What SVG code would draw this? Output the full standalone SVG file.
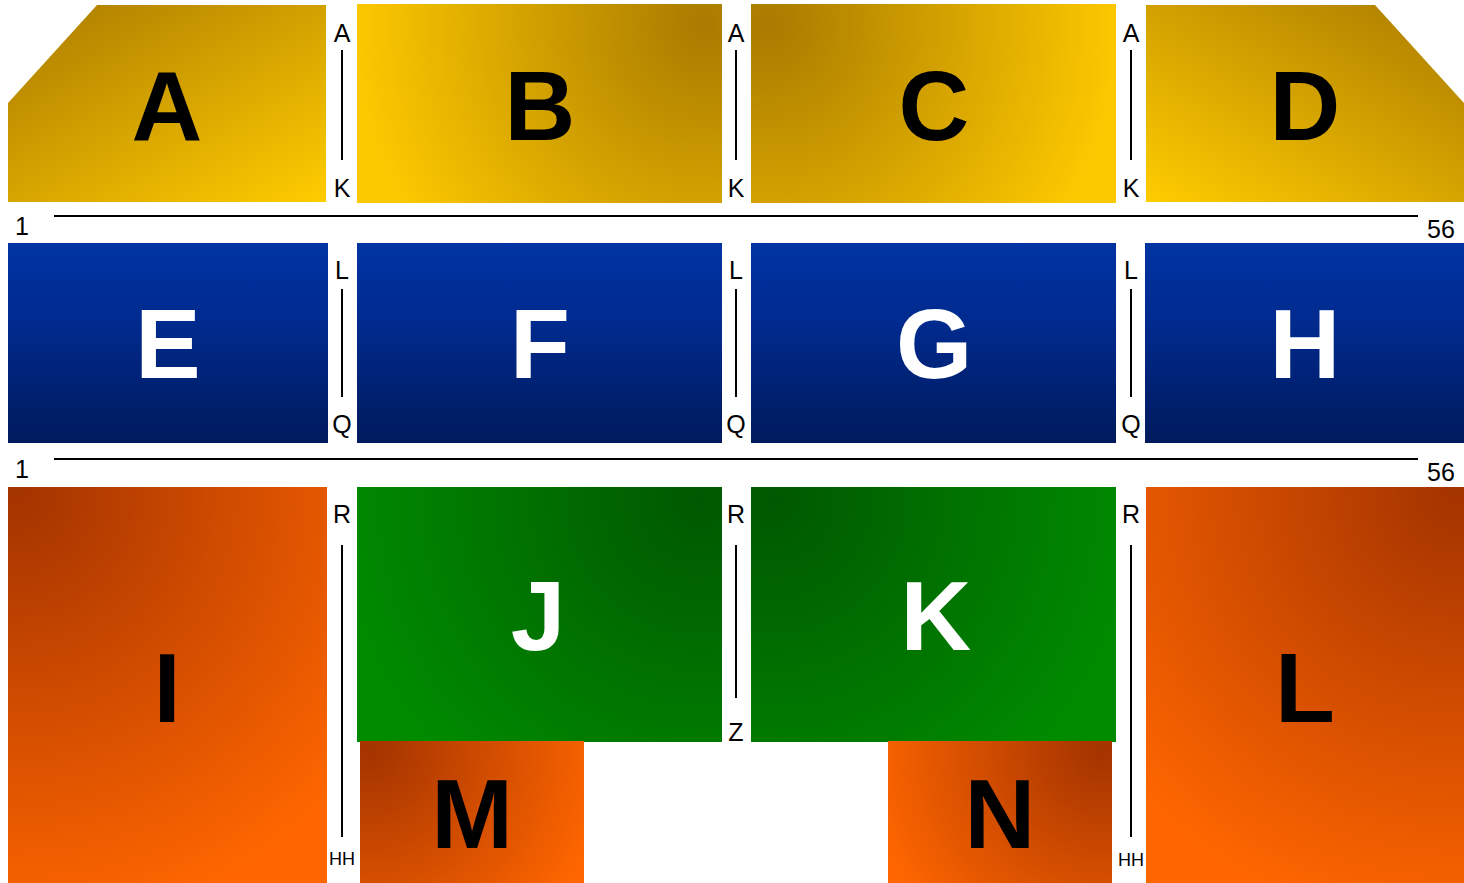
<svg xmlns="http://www.w3.org/2000/svg" width="1464" height="883" viewBox="0 0 1464 883">
<style>
.big{font-family:"Liberation Sans",Arial,sans-serif;font-weight:bold;font-size:98px;text-anchor:middle}
.blk{fill:#000}
.wht{fill:#fff}
.sm{font-family:"Liberation Sans",Arial,sans-serif;font-size:25px;text-anchor:middle;fill:#000}
.xs{font-family:"Liberation Sans",Arial,sans-serif;font-size:18px;text-anchor:middle;fill:#000}
.ln{stroke:#000;stroke-width:2;fill:none}
</style>
<defs>
<linearGradient id="yA" x1="0.1" y1="0" x2="1" y2="1"><stop offset="0" stop-color="#AE7E00"/><stop offset="1" stop-color="#FFCC00"/></linearGradient>
<radialGradient id="yB" gradientUnits="userSpaceOnUse" cx="705" cy="25" r="350"><stop offset="0" stop-color="#A97A00"/><stop offset="1" stop-color="#FCC800"/></radialGradient>
<radialGradient id="yC" gradientUnits="userSpaceOnUse" cx="768" cy="25" r="350"><stop offset="0" stop-color="#A97A00"/><stop offset="1" stop-color="#FCC800"/></radialGradient>
<linearGradient id="yD" x1="0.9" y1="0" x2="0" y2="1"><stop offset="0" stop-color="#AE7E00"/><stop offset="1" stop-color="#FFCC00"/></linearGradient>
<linearGradient id="bl" x1="0" y1="0" x2="0" y2="1"><stop offset="0" stop-color="#0033A3"/><stop offset="0.4" stop-color="#002A8E"/><stop offset="1" stop-color="#001A5C"/></linearGradient>
<radialGradient id="oI" gradientUnits="userSpaceOnUse" cx="15" cy="492" r="440"><stop offset="0" stop-color="#A33300"/><stop offset="1" stop-color="#FF6600"/></radialGradient>
<radialGradient id="oL" gradientUnits="userSpaceOnUse" cx="1457" cy="492" r="440"><stop offset="0" stop-color="#A33300"/><stop offset="1" stop-color="#FF6600"/></radialGradient>
<radialGradient id="oM" gradientUnits="userSpaceOnUse" cx="370" cy="750" r="240"><stop offset="0" stop-color="#A33300"/><stop offset="1" stop-color="#FF6600"/></radialGradient>
<radialGradient id="oN" gradientUnits="userSpaceOnUse" cx="1102" cy="750" r="240"><stop offset="0" stop-color="#A33300"/><stop offset="1" stop-color="#FF6600"/></radialGradient>
<radialGradient id="gJ" gradientUnits="userSpaceOnUse" cx="700" cy="500" r="360"><stop offset="0" stop-color="#005800"/><stop offset="1" stop-color="#008A00"/></radialGradient>
<radialGradient id="gK" gradientUnits="userSpaceOnUse" cx="773" cy="500" r="360"><stop offset="0" stop-color="#005800"/><stop offset="1" stop-color="#008A00"/></radialGradient>
</defs>

<g id="nodeA"><polygon points="97,5 326,5 326,202 8,202 8,103" fill="url(#yA)"/><text class="big blk" x="167" y="140">A</text></g>
<g id="nodeB"><rect x="357" y="4" width="365" height="199" fill="url(#yB)"/><text class="big blk" x="540" y="140">B</text></g>
<g id="nodeC"><rect x="751" y="4" width="365" height="199" fill="url(#yC)"/><text class="big blk" x="934" y="140">C</text></g>
<g id="nodeD"><polygon points="1146,5 1375,5 1464,103 1464,202 1146,202" fill="url(#yD)"/><text class="big blk" x="1305" y="140">D</text></g>

<g id="nodeE"><rect x="8" y="243" width="320" height="200" fill="url(#bl)"/><text class="big wht" x="168" y="378">E</text></g>
<g id="nodeF"><rect x="357" y="243" width="365" height="200" fill="url(#bl)"/><text class="big wht" x="540" y="378">F</text></g>
<g id="nodeG"><rect x="751" y="243" width="365" height="200" fill="url(#bl)"/><text class="big wht" x="934" y="378">G</text></g>
<g id="nodeH"><rect x="1145" y="243" width="319" height="200" fill="url(#bl)"/><text class="big wht" x="1305" y="378">H</text></g>

<g id="nodeI"><rect x="8" y="487" width="319" height="396" fill="url(#oI)"/><text class="big blk" x="167" y="722">I</text></g>
<g id="nodeJ"><rect x="357" y="487" width="365" height="255" fill="url(#gJ)"/><text class="big wht" x="538" y="650">J</text></g>
<g id="nodeK"><rect x="751" y="487" width="365" height="255" fill="url(#gK)"/><text class="big wht" x="936" y="650">K</text></g>
<g id="nodeL"><rect x="1146" y="487" width="318" height="396" fill="url(#oL)"/><text class="big blk" x="1305" y="722">L</text></g>
<g id="nodeM"><rect x="360" y="741" width="224" height="142" fill="url(#oM)"/><text class="big blk" x="472" y="848">M</text></g>
<g id="nodeN"><rect x="888" y="741" width="224" height="142" fill="url(#oN)"/><text class="big blk" x="1000" y="848">N</text></g>

<g id="connectors">
<line class="ln" x1="54" y1="216" x2="1418" y2="216"/>
<line class="ln" x1="54" y1="459" x2="1418" y2="459"/>
<line class="ln" x1="342" y1="50" x2="342" y2="160"/>
<line class="ln" x1="736" y1="50" x2="736" y2="160"/>
<line class="ln" x1="1131" y1="50" x2="1131" y2="160"/>
<line class="ln" x1="342" y1="289" x2="342" y2="397"/>
<line class="ln" x1="736" y1="289" x2="736" y2="397"/>
<line class="ln" x1="1131" y1="289" x2="1131" y2="397"/>
<line class="ln" x1="342" y1="545" x2="342" y2="837"/>
<line class="ln" x1="736" y1="545" x2="736" y2="698"/>
<line class="ln" x1="1131" y1="545" x2="1131" y2="837"/>
</g>

<g id="labels">
<text class="sm" x="22" y="235">1</text>
<text class="sm" x="1441" y="238">56</text>
<text class="sm" x="22" y="478">1</text>
<text class="sm" x="1441" y="481">56</text>
<text class="sm" x="342" y="42">A</text><text class="sm" x="342" y="197">K</text>
<text class="sm" x="736" y="42">A</text><text class="sm" x="736" y="197">K</text>
<text class="sm" x="1131" y="42">A</text><text class="sm" x="1131" y="197">K</text>
<text class="sm" x="342" y="279">L</text><text class="sm" x="342" y="433">Q</text>
<text class="sm" x="736" y="279">L</text><text class="sm" x="736" y="433">Q</text>
<text class="sm" x="1131" y="279">L</text><text class="sm" x="1131" y="433">Q</text>
<text class="sm" x="342" y="523">R</text><text class="xs" x="342" y="865">HH</text>
<text class="sm" x="736" y="523">R</text><text class="sm" x="736" y="741">Z</text>
<text class="sm" x="1131" y="523">R</text><text class="xs" x="1131" y="866">HH</text>
</g>
</svg>
